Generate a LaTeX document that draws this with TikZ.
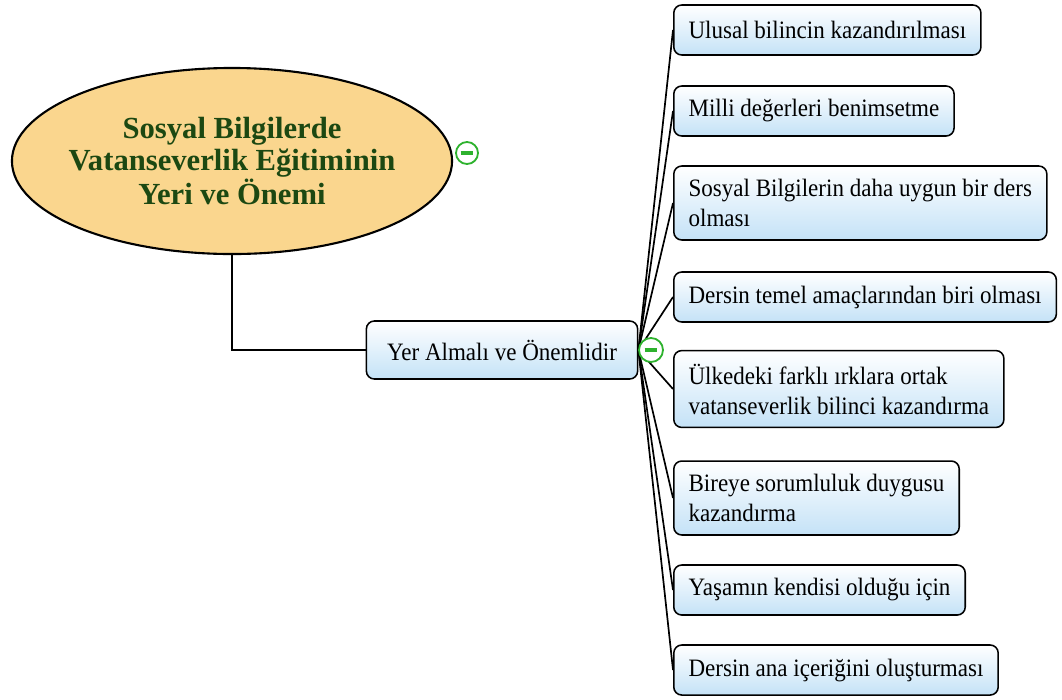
\documentclass[tikz,border=0pt]{standalone}
\usepackage{fontspec}
\setmainfont{Liberation Serif}
\newfontfamily\leaffont[FakeStretch=0.92]{Liberation Serif}
\usetikzlibrary{shapes.geometric, positioning}
\definecolor{titlefill}{RGB}{250,214,142}
\definecolor{titletext}{RGB}{28,72,18}
\definecolor{leafblue}{RGB}{196,226,247}
\definecolor{togglegreen}{RGB}{46,178,46}
\tikzstyle{root} = [ellipse, draw=black, line width=1.5pt, fill=titlefill, minimum width=11cm, minimum height=4.65cm, inner xsep=-0.25cm, inner ysep=0, text centered, align=center, text=titletext, font=\fontsize{21.8}{22.6}\selectfont\bfseries]
\tikzstyle{branch} = [rectangle, rounded corners=0.2cm, draw=black, line width=1.1pt, top color=white, bottom color=leafblue, minimum height=1.25cm, inner xsep=0.37cm, inner ysep=0.33cm, font=\leaffont\fontsize{17.8}{21.3}\selectfont]
\tikzstyle{leaf} = [branch, anchor=west, align=left]
\tikzstyle{trunk} = [line width=2.1pt, black]
\tikzstyle{link} = [line width=1.2pt, black]
\tikzstyle{toggle} = [circle, draw=togglegreen, line width=1.3pt, fill=white, minimum size=0.55cm, inner sep=0, path picture={\draw [togglegreen, line width=2.4pt] ([xshift=-0.16cm]path picture bounding box.center) -- ([xshift=0.16cm]path picture bounding box.center);}]

\begin{document}
\begin{tikzpicture}[x=0.025cm, y=-0.025cm]
\useasboundingbox (0,0) rectangle (1062,699);

\node (title) [root] at (232,161) {Sosyal Bilgilerde\\Vatanseverlik Eğitiminin\\Yeri ve Önemi};
\node (yerAlmali) [branch, minimum width=6.78cm, minimum height=1.45cm] at (502,350) {Yer Almalı ve Önemlidir};
\draw [trunk] (title.south) |- (yerAlmali.west);

\node (ulusal) [leaf] at (673,30) {Ulusal bilincin kazandırılması};
\draw [link] (yerAlmali.east) -- (ulusal.west);
\node (milli) [leaf] at (673,111) {Milli değerleri benimsetme};
\draw [link] (yerAlmali.east) -- (milli.west);
\node (sosyal) [leaf] at (673,203) {Sosyal Bilgilerin daha uygun bir ders\\olması};
\draw [link] (yerAlmali.east) -- (sosyal.west);
\node (temelAmac) [leaf] at (673,297) {Dersin temel amaçlarından biri olması};
\draw [link] (yerAlmali.east) -- (temelAmac.west);
\node (ortakBilinc) [leaf] at (673,389) {Ülkedeki farklı ırklara ortak\\vatanseverlik bilinci kazandırma};
\draw [link] (yerAlmali.east) -- (ortakBilinc.west);
\node (sorumluluk) [leaf] at (673,498) {Bireye sorumluluk duygusu\\kazandırma};
\draw [link] (yerAlmali.east) -- (sorumluluk.west);
\node (yasam) [leaf] at (673,590) {Yaşamın kendisi olduğu için};
\draw [link] (yerAlmali.east) -- (yasam.west);
\node (anaIcerik) [leaf] at (673,670) {Dersin ana içeriğini oluşturması};
\draw [link] (yerAlmali.east) -- (anaIcerik.west);

\node (toggleTitle) [toggle] at (467,153) {};
\node (toggleYer) [toggle, minimum size=0.6cm] at (651,350) {};

\end{tikzpicture}
\end{document}
